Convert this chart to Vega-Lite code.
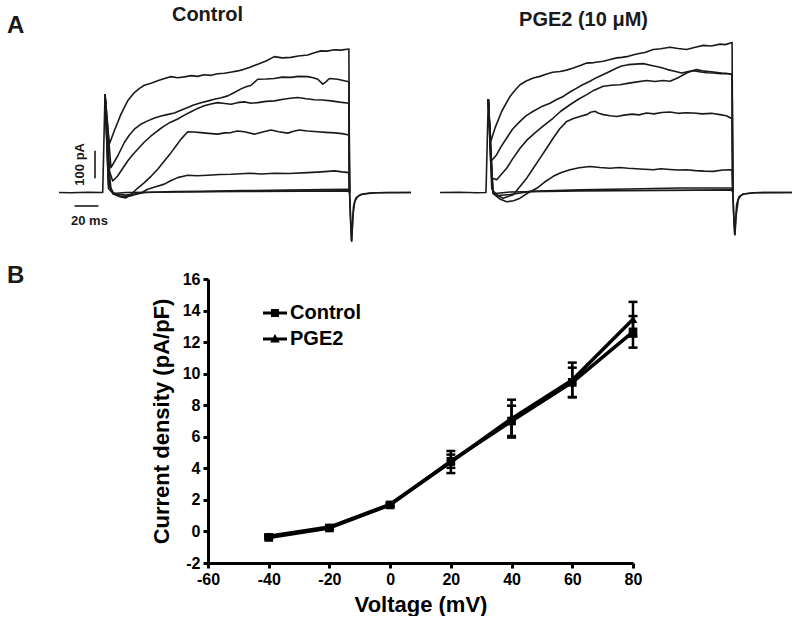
{
  "$schema": "https://vega.github.io/schema/vega-lite/v6.json",
  "padding": {"left": 7, "top": 4.5, "right": 0, "bottom": 0},
  "config": {"font": "Liberation Sans", "view": {"stroke": null}},
  "datasets": {
    "ctrl": [
      {"s":"p","t":-40,"i":0},{"s":"p","t":-30,"i":-1},{"s":"p","t":-15,"i":1},{"s":"p","t":-2,"i":0},{"s":"p","t":0,"i":378},
      {"s":"c1","t":0,"i":378},{"s":"c1","t":3.7,"i":185},{"s":"c1","t":8.1,"i":237},{"s":"c1","t":13.9,"i":301},{"s":"c1","t":19.7,"i":352},{"s":"c1","t":25.5,"i":384},{"s":"c1","t":30,"i":400},{"s":"c1","t":34.2,"i":412},{"s":"c1","t":40,"i":420},{"s":"c1","t":45.8,"i":429},{"s":"c1","t":51,"i":437},{"s":"c1","t":57.4,"i":445},{"s":"c1","t":63,"i":441},{"s":"c1","t":69,"i":444},{"s":"c1","t":75,"i":449},{"s":"c1","t":80.6,"i":446},{"s":"c1","t":86,"i":452},{"s":"c1","t":92.2,"i":450},{"s":"c1","t":98,"i":456},{"s":"c1","t":103.7,"i":458},{"s":"c1","t":109,"i":462},{"s":"c1","t":115.4,"i":467},{"s":"c1","t":120,"i":472},{"s":"c1","t":125.5,"i":480},{"s":"c1","t":132.8,"i":493},{"s":"c1","t":140,"i":505},{"s":"c1","t":147.2,"i":522},{"s":"c1","t":154,"i":517},{"s":"c1","t":161.7,"i":519},{"s":"c1","t":168,"i":524},{"s":"c1","t":176.3,"i":528},{"s":"c1","t":182,"i":537},{"s":"c1","t":187.8,"i":544},{"s":"c1","t":193,"i":543},{"s":"c1","t":199.4,"i":548},{"s":"c1","t":205,"i":547},{"s":"c1","t":212,"i":551},{"s":"c1","t":212.6,"i":0},
      {"s":"c2","t":0,"i":378},{"s":"c2","t":5.2,"i":95},{"s":"c2","t":11,"i":140},{"s":"c2","t":16.8,"i":192},{"s":"c2","t":21,"i":220},{"s":"c2","t":25.5,"i":243},{"s":"c2","t":31,"i":262},{"s":"c2","t":37.1,"i":275},{"s":"c2","t":43,"i":286},{"s":"c2","t":48.7,"i":294},{"s":"c2","t":54,"i":299},{"s":"c2","t":60.3,"i":305},{"s":"c2","t":66,"i":316},{"s":"c2","t":71.9,"i":326},{"s":"c2","t":77,"i":336},{"s":"c2","t":83.5,"i":345},{"s":"c2","t":89,"i":351},{"s":"c2","t":95,"i":358},{"s":"c2","t":101,"i":364},{"s":"c2","t":106.7,"i":371},{"s":"c2","t":112,"i":383},{"s":"c2","t":118.3,"i":398},{"s":"c2","t":122,"i":405},{"s":"c2","t":127,"i":412},{"s":"c2","t":132.8,"i":435},{"s":"c2","t":140,"i":436},{"s":"c2","t":147.2,"i":438},{"s":"c2","t":154,"i":443},{"s":"c2","t":161.7,"i":442},{"s":"c2","t":168,"i":446},{"s":"c2","t":176.3,"i":445},{"s":"c2","t":181,"i":441},{"s":"c2","t":185,"i":435},{"s":"c2","t":189.3,"i":416},{"s":"c2","t":192,"i":425},{"s":"c2","t":195,"i":438},{"s":"c2","t":202.3,"i":435},{"s":"c2","t":207,"i":430},{"s":"c2","t":212,"i":425},{"s":"c2","t":212.6,"i":0},
      {"s":"c3","t":0,"i":378},{"s":"c3","t":4,"i":80},{"s":"c3","t":6.7,"i":44},{"s":"c3","t":11,"i":63},{"s":"c3","t":15,"i":90},{"s":"c3","t":19.7,"i":121},{"s":"c3","t":24,"i":145},{"s":"c3","t":28.4,"i":166},{"s":"c3","t":34,"i":193},{"s":"c3","t":40,"i":217},{"s":"c3","t":46,"i":238},{"s":"c3","t":51.6,"i":256},{"s":"c3","t":57,"i":270},{"s":"c3","t":63.2,"i":282},{"s":"c3","t":69,"i":297},{"s":"c3","t":74.8,"i":310},{"s":"c3","t":80,"i":322},{"s":"c3","t":86.3,"i":333},{"s":"c3","t":92,"i":340},{"s":"c3","t":97.9,"i":345},{"s":"c3","t":104,"i":342},{"s":"c3","t":109.6,"i":339},{"s":"c3","t":115,"i":345},{"s":"c3","t":121.1,"i":348},{"s":"c3","t":127,"i":343},{"s":"c3","t":132.8,"i":345},{"s":"c3","t":140,"i":350},{"s":"c3","t":147.2,"i":352},{"s":"c3","t":155,"i":358},{"s":"c3","t":161,"i":362},{"s":"c3","t":167.6,"i":365},{"s":"c3","t":175,"i":360},{"s":"c3","t":182,"i":356},{"s":"c3","t":189,"i":355},{"s":"c3","t":196.5,"i":352},{"s":"c3","t":204,"i":347},{"s":"c3","t":212,"i":343},{"s":"c3","t":212.6,"i":0},
      {"s":"c4","t":0,"i":378},{"s":"c4","t":3,"i":120},{"s":"c4","t":5,"i":20},{"s":"c4","t":7,"i":-6},{"s":"c4","t":13.9,"i":-17},{"s":"c4","t":18.3,"i":-21},{"s":"c4","t":22.6,"i":-8},{"s":"c4","t":28,"i":15},{"s":"c4","t":34.2,"i":38},{"s":"c4","t":40,"i":62},{"s":"c4","t":45.8,"i":89},{"s":"c4","t":51,"i":118},{"s":"c4","t":57.4,"i":153},{"s":"c4","t":62,"i":180},{"s":"c4","t":66.1,"i":205},{"s":"c4","t":71.9,"i":233},{"s":"c4","t":77,"i":232},{"s":"c4","t":83.5,"i":230},{"s":"c4","t":90,"i":227},{"s":"c4","t":97.9,"i":224},{"s":"c4","t":104,"i":229},{"s":"c4","t":109.6,"i":230},{"s":"c4","t":115,"i":236},{"s":"c4","t":121.1,"i":233},{"s":"c4","t":129.8,"i":224},{"s":"c4","t":137,"i":232},{"s":"c4","t":144.3,"i":240},{"s":"c4","t":151,"i":233},{"s":"c4","t":158.8,"i":228},{"s":"c4","t":164,"i":235},{"s":"c4","t":168.9,"i":240},{"s":"c4","t":176,"i":236},{"s":"c4","t":184.9,"i":233},{"s":"c4","t":192,"i":231},{"s":"c4","t":200,"i":229},{"s":"c4","t":206,"i":226},{"s":"c4","t":212,"i":221},{"s":"c4","t":212.6,"i":0},
      {"s":"c5","t":0,"i":378},{"s":"c5","t":3,"i":60},{"s":"c5","t":5.2,"i":6},{"s":"c5","t":12.2,"i":-15},{"s":"c5","t":22.6,"i":-13},{"s":"c5","t":31.3,"i":-2},{"s":"c5","t":37.1,"i":12},{"s":"c5","t":44,"i":22},{"s":"c5","t":51.6,"i":32},{"s":"c5","t":57,"i":45},{"s":"c5","t":63.2,"i":57},{"s":"c5","t":71.9,"i":66},{"s":"c5","t":80,"i":64},{"s":"c5","t":89.3,"i":66},{"s":"c5","t":100,"i":69},{"s":"c5","t":109.6,"i":70},{"s":"c5","t":118,"i":72},{"s":"c5","t":125.5,"i":74},{"s":"c5","t":136,"i":71},{"s":"c5","t":147.2,"i":74},{"s":"c5","t":160,"i":73},{"s":"c5","t":176.3,"i":76},{"s":"c5","t":188,"i":79},{"s":"c5","t":199.4,"i":83},{"s":"c5","t":206,"i":79},{"s":"c5","t":212,"i":76},{"s":"c5","t":212.6,"i":0},
      {"s":"c6","t":0,"i":378},{"s":"c6","t":3,"i":30},{"s":"c6","t":7.8,"i":-6},{"s":"c6","t":18,"i":-10},{"s":"c6","t":27,"i":-5},{"s":"c6","t":35.7,"i":0},{"s":"c6","t":60,"i":3},{"s":"c6","t":83.5,"i":4},{"s":"c6","t":120,"i":7},{"s":"c6","t":160,"i":9},{"s":"c6","t":190,"i":11},{"s":"c6","t":212,"i":12},{"s":"c6","t":212.6,"i":0},
      {"s":"c7","t":0,"i":378},{"s":"c7","t":3,"i":15},{"s":"c7","t":7,"i":-4},{"s":"c7","t":18,"i":0},{"s":"c7","t":60,"i":2},{"s":"c7","t":120,"i":4},{"s":"c7","t":170,"i":5},{"s":"c7","t":212,"i":6},{"s":"c7","t":212.6,"i":0},
      {"s":"ta","t":212.6,"i":0},{"s":"ta","t":213.6,"i":-120},{"s":"ta","t":214.5,"i":-187},{"s":"ta","t":215.5,"i":-90},{"s":"ta","t":217,"i":-35},{"s":"ta","t":219.7,"i":-15},{"s":"ta","t":224,"i":-6},{"s":"ta","t":230,"i":-2},{"s":"ta","t":245,"i":0},{"s":"ta","t":266,"i":0},
      {"s":"tb","t":212.6,"i":0},{"s":"tb","t":214.2,"i":-185},{"s":"tb","t":215,"i":-130},{"s":"tb","t":216,"i":-55},{"s":"tb","t":218,"i":-22},{"s":"tb","t":222,"i":-8},{"s":"tb","t":235,"i":-1},{"s":"tb","t":266,"i":0}
    ],
    "pge": [
      {"s":"p","t":-42,"i":0},{"s":"p","t":-25,"i":1},{"s":"p","t":-10,"i":-1},{"s":"p","t":-2,"i":0},{"s":"p","t":0,"i":358},
      {"s":"p1","t":0,"i":358},{"s":"p1","t":2.1,"i":196},{"s":"p1","t":5.8,"i":247},{"s":"p1","t":11.7,"i":312},{"s":"p1","t":18.9,"i":369},{"s":"p1","t":23,"i":392},{"s":"p1","t":27.6,"i":414},{"s":"p1","t":33,"i":428},{"s":"p1","t":39.1,"i":440},{"s":"p1","t":45,"i":446},{"s":"p1","t":50.8,"i":455},{"s":"p1","t":56,"i":462},{"s":"p1","t":62.3,"i":465},{"s":"p1","t":68,"i":470},{"s":"p1","t":73.9,"i":478},{"s":"p1","t":80,"i":488},{"s":"p1","t":85.6,"i":497},{"s":"p1","t":92,"i":499},{"s":"p1","t":100,"i":504},{"s":"p1","t":106,"i":511},{"s":"p1","t":111.7,"i":517},{"s":"p1","t":116,"i":519},{"s":"p1","t":121.7,"i":523},{"s":"p1","t":129,"i":532},{"s":"p1","t":136,"i":538},{"s":"p1","t":143.5,"i":549},{"s":"p1","t":150,"i":552},{"s":"p1","t":158,"i":558},{"s":"p1","t":165,"i":553},{"s":"p1","t":172.5,"i":549},{"s":"p1","t":180,"i":558},{"s":"p1","t":187,"i":565},{"s":"p1","t":194,"i":563},{"s":"p1","t":201.5,"i":570},{"s":"p1","t":206,"i":568},{"s":"p1","t":212,"i":576},{"s":"p1","t":212.6,"i":0},
      {"s":"p2","t":0,"i":358},{"s":"p2","t":2.1,"i":119},{"s":"p2","t":7.3,"i":145},{"s":"p2","t":11,"i":175},{"s":"p2","t":16,"i":209},{"s":"p2","t":21,"i":243},{"s":"p2","t":27.6,"i":273},{"s":"p2","t":33,"i":295},{"s":"p2","t":39.1,"i":312},{"s":"p2","t":46,"i":329},{"s":"p2","t":53.7,"i":343},{"s":"p2","t":59,"i":356},{"s":"p2","t":65.2,"i":369},{"s":"p2","t":71,"i":386},{"s":"p2","t":76.9,"i":401},{"s":"p2","t":82,"i":414},{"s":"p2","t":88.4,"i":427},{"s":"p2","t":94,"i":441},{"s":"p2","t":100,"i":453},{"s":"p2","t":106,"i":466},{"s":"p2","t":111.7,"i":478},{"s":"p2","t":116,"i":486},{"s":"p2","t":121.7,"i":491},{"s":"p2","t":128,"i":493},{"s":"p2","t":134.8,"i":495},{"s":"p2","t":142,"i":488},{"s":"p2","t":149.3,"i":481},{"s":"p2","t":156,"i":472},{"s":"p2","t":162,"i":466},{"s":"p2","t":168.2,"i":459},{"s":"p2","t":173,"i":464},{"s":"p2","t":178.3,"i":468},{"s":"p2","t":185,"i":463},{"s":"p2","t":190,"i":460},{"s":"p2","t":195.7,"i":459},{"s":"p2","t":202,"i":456},{"s":"p2","t":207,"i":457},{"s":"p2","t":212,"i":453},{"s":"p2","t":212.6,"i":0},
      {"s":"p3","t":0,"i":358},{"s":"p3","t":3,"i":55},{"s":"p3","t":7.3,"i":49},{"s":"p3","t":11,"i":68},{"s":"p3","t":16,"i":93},{"s":"p3","t":21,"i":128},{"s":"p3","t":27.6,"i":170},{"s":"p3","t":34,"i":203},{"s":"p3","t":42.1,"i":235},{"s":"p3","t":49,"i":260},{"s":"p3","t":56.5,"i":286},{"s":"p3","t":63,"i":312},{"s":"p3","t":71,"i":337},{"s":"p3","t":78,"i":357},{"s":"p3","t":85.6,"i":376},{"s":"p3","t":92,"i":393},{"s":"p3","t":100,"i":408},{"s":"p3","t":107,"i":412},{"s":"p3","t":114.5,"i":414},{"s":"p3","t":121,"i":419},{"s":"p3","t":128,"i":424},{"s":"p3","t":137.7,"i":430},{"s":"p3","t":145,"i":426},{"s":"p3","t":152,"i":430},{"s":"p3","t":158,"i":427},{"s":"p3","t":165,"i":441},{"s":"p3","t":172.5,"i":459},{"s":"p3","t":177,"i":467},{"s":"p3","t":181.2,"i":472},{"s":"p3","t":188,"i":466},{"s":"p3","t":195.7,"i":463},{"s":"p3","t":203,"i":459},{"s":"p3","t":212,"i":455},{"s":"p3","t":212.6,"i":0},
      {"s":"p4","t":0,"i":358},{"s":"p4","t":4,"i":4},{"s":"p4","t":8,"i":-12},{"s":"p4","t":13,"i":-22},{"s":"p4","t":17,"i":-16},{"s":"p4","t":21.7,"i":-9},{"s":"p4","t":27,"i":20},{"s":"p4","t":33.4,"i":55},{"s":"p4","t":39,"i":92},{"s":"p4","t":45,"i":132},{"s":"p4","t":51,"i":172},{"s":"p4","t":56.5,"i":209},{"s":"p4","t":62,"i":244},{"s":"p4","t":68.2,"i":273},{"s":"p4","t":74,"i":284},{"s":"p4","t":79.7,"i":292},{"s":"p4","t":86,"i":300},{"s":"p4","t":89,"i":308},{"s":"p4","t":92.8,"i":312},{"s":"p4","t":96,"i":304},{"s":"p4","t":100,"i":299},{"s":"p4","t":106,"i":295},{"s":"p4","t":111.7,"i":292},{"s":"p4","t":118,"i":297},{"s":"p4","t":125,"i":301},{"s":"p4","t":131,"i":298},{"s":"p4","t":137.7,"i":305},{"s":"p4","t":144,"i":302},{"s":"p4","t":151,"i":307},{"s":"p4","t":158,"i":309},{"s":"p4","t":165,"i":304},{"s":"p4","t":172,"i":306},{"s":"p4","t":178.3,"i":305},{"s":"p4","t":186,"i":302},{"s":"p4","t":194,"i":304},{"s":"p4","t":201.5,"i":299},{"s":"p4","t":207,"i":295},{"s":"p4","t":212,"i":283},{"s":"p4","t":212.6,"i":0},
      {"s":"p5","t":0,"i":358},{"s":"p5","t":4,"i":-4},{"s":"p5","t":10,"i":-25},{"s":"p5","t":16,"i":-36},{"s":"p5","t":22,"i":-32},{"s":"p5","t":27.6,"i":-22},{"s":"p5","t":34,"i":-3},{"s":"p5","t":42.1,"i":16},{"s":"p5","t":49,"i":40},{"s":"p5","t":56.5,"i":62},{"s":"p5","t":63,"i":76},{"s":"p5","t":71,"i":87},{"s":"p5","t":79,"i":95},{"s":"p5","t":88.4,"i":100},{"s":"p5","t":97,"i":96},{"s":"p5","t":105.8,"i":93},{"s":"p5","t":114,"i":96},{"s":"p5","t":121.7,"i":93},{"s":"p5","t":132,"i":90},{"s":"p5","t":143.5,"i":87},{"s":"p5","t":150,"i":91},{"s":"p5","t":158,"i":88},{"s":"p5","t":165,"i":86},{"s":"p5","t":172.5,"i":87},{"s":"p5","t":180,"i":84},{"s":"p5","t":188,"i":82},{"s":"p5","t":195.7,"i":81},{"s":"p5","t":204,"i":86},{"s":"p5","t":212,"i":87},{"s":"p5","t":212.6,"i":0},
      {"s":"p6","t":0,"i":358},{"s":"p6","t":4,"i":4},{"s":"p6","t":8.4,"i":-12},{"s":"p6","t":18.9,"i":-8},{"s":"p6","t":28,"i":-2},{"s":"p6","t":36.3,"i":4},{"s":"p6","t":79.7,"i":10},{"s":"p6","t":120,"i":13},{"s":"p6","t":166.7,"i":17},{"s":"p6","t":212,"i":17},{"s":"p6","t":212.6,"i":0},
      {"s":"p7","t":0,"i":358},{"s":"p7","t":3,"i":15},{"s":"p7","t":5.8,"i":-4},{"s":"p7","t":18.9,"i":2},{"s":"p7","t":80,"i":6},{"s":"p7","t":150,"i":8},{"s":"p7","t":212,"i":10},{"s":"p7","t":212.6,"i":0},
      {"s":"ta","t":212.6,"i":0},{"s":"ta","t":213.6,"i":-110},{"s":"ta","t":214.5,"i":-163},{"s":"ta","t":215.5,"i":-90},{"s":"ta","t":217.4,"i":-28},{"s":"ta","t":219.5,"i":-12},{"s":"ta","t":221.7,"i":-6},{"s":"ta","t":230.4,"i":-1},{"s":"ta","t":245,"i":0},{"s":"ta","t":264.1,"i":0},
      {"s":"tb","t":212.6,"i":0},{"s":"tb","t":214.2,"i":-160},{"s":"tb","t":215,"i":-110},{"s":"tb","t":216,"i":-45},{"s":"tb","t":218,"i":-16},{"s":"tb","t":222,"i":-6},{"s":"tb","t":232,"i":-1},{"s":"tb","t":264.1,"i":0}
    ],
    "iv": [
      {"g":"Control","v":-40,"m":-0.38,"lo":-0.48,"hi":-0.28},
      {"g":"Control","v":-20,"m":0.22,"lo":0.12,"hi":0.32},
      {"g":"Control","v":0,"m":1.68,"lo":1.58,"hi":1.78},
      {"g":"Control","v":20,"m":4.45,"lo":4.03,"hi":4.87},
      {"g":"Control","v":40,"m":7.0,"lo":6.05,"hi":7.97},
      {"g":"Control","v":60,"m":9.45,"lo":8.52,"hi":10.38},
      {"g":"Control","v":80,"m":12.65,"lo":11.65,"hi":13.65},
      {"g":"PGE2","v":-40,"m":-0.3,"lo":-0.4,"hi":-0.2},
      {"g":"PGE2","v":-20,"m":0.28,"lo":0.18,"hi":0.38},
      {"g":"PGE2","v":0,"m":1.72,"lo":1.62,"hi":1.82},
      {"g":"PGE2","v":20,"m":4.4,"lo":3.7,"hi":5.1},
      {"g":"PGE2","v":40,"m":7.15,"lo":5.95,"hi":8.35},
      {"g":"PGE2","v":60,"m":9.6,"lo":8.5,"hi":10.7},
      {"g":"PGE2","v":80,"m":13.45,"lo":12.35,"hi":14.55}
    ]
  },
  "spacing": 18.5,
  "vconcat": [
    {
      "spacing": 27,
      "hconcat": [
        {
          "width": 24, "height": 203,
          "data": {"values": [{}]},
          "mark": {"type": "text", "text": "A", "fontSize": 24, "fontWeight": "bold", "color": "#1a1a1a", "align": "left", "baseline": "alphabetic"},
          "encoding": {
            "x": {"datum": 0, "type": "quantitative", "scale": {"domain": [0, 1], "nice": false, "zero": false}, "axis": null},
            "y": {"datum": 613, "type": "quantitative", "scale": {"domain": [-200, 580], "nice": false, "zero": false}, "axis": null}}
        },
        {
          "width": 352, "height": 203,
          "layer": [
            {"data": {"name": "ctrl"}, "mark": {"type": "line", "color": "#1a1a1a", "strokeWidth": 1.6, "strokeJoin": "round"},
             "encoding": {
               "x": {"field": "t", "type": "quantitative", "scale": {"domain": [-40, 266], "nice": false, "zero": false}, "axis": null},
               "y": {"field": "i", "type": "quantitative", "scale": {"domain": [-200, 580], "nice": false, "zero": false}, "axis": null},
               "detail": {"field": "s", "type": "nominal"}}},
            {"data": {"values": [{}]}, "mark": {"type": "rule", "color": "#1a1a1a", "strokeWidth": 1.6},
             "encoding": {"x": {"datum": -8.7, "type": "quantitative", "axis": null}, "y": {"datum": 55, "type": "quantitative", "axis": null}, "y2": {"datum": 160}}},
            {"data": {"values": [{}]}, "mark": {"type": "rule", "color": "#1a1a1a", "strokeWidth": 1.6},
             "encoding": {"x": {"datum": -26.5, "type": "quantitative", "axis": null}, "x2": {"datum": -5.7}, "y": {"datum": -52, "type": "quantitative", "axis": null}}},
            {"data": {"values": [{}]}, "mark": {"type": "text", "text": "100 pA", "angle": 270, "fontSize": 13, "fontWeight": "bold", "color": "#1a1a1a", "align": "center", "baseline": "middle"},
             "encoding": {"x": {"datum": -22, "type": "quantitative", "axis": null}, "y": {"datum": 108, "type": "quantitative", "axis": null}}},
            {"data": {"values": [{}]}, "mark": {"type": "text", "text": "20 ms", "fontSize": 13, "fontWeight": "bold", "color": "#1a1a1a", "align": "center", "baseline": "middle"},
             "encoding": {"x": {"datum": -13.5, "type": "quantitative", "axis": null}, "y": {"datum": -110, "type": "quantitative", "axis": null}}},
            {"data": {"values": [{}]}, "mark": {"type": "text", "text": "Control", "fontSize": 20, "fontWeight": "bold", "color": "#1a1a1a", "align": "center", "baseline": "alphabetic"},
             "encoding": {"x": {"datum": 89.1, "type": "quantitative", "axis": null}, "y": {"datum": 658, "type": "quantitative", "axis": null}}}
          ]
        },
        {
          "width": 352, "height": 203,
          "layer": [
            {"data": {"name": "pge"}, "mark": {"type": "line", "color": "#1a1a1a", "strokeWidth": 1.6, "strokeJoin": "round"},
             "encoding": {
               "x": {"field": "t", "type": "quantitative", "scale": {"domain": [-42, 264.1], "nice": false, "zero": false}, "axis": null},
               "y": {"field": "i", "type": "quantitative", "scale": {"domain": [-200, 580], "nice": false, "zero": false}, "axis": null},
               "detail": {"field": "s", "type": "nominal"}}},
            {"data": {"values": [{}]}, "mark": {"type": "text", "text": "PGE2 (10 μM)", "fontSize": 20, "fontWeight": "bold", "color": "#1a1a1a", "align": "center", "baseline": "alphabetic"},
             "encoding": {"x": {"datum": 82.8, "type": "quantitative", "axis": null}, "y": {"datum": 640, "type": "quantitative", "axis": null}}}
          ]
        }
      ]
    },
    {
      "spacing": 122,
      "hconcat": [
        {
          "width": 21, "height": 284,
          "data": {"values": [{}]},
          "mark": {"type": "text", "text": "B", "fontSize": 24, "fontWeight": "bold", "color": "#1a1a1a", "align": "left", "baseline": "alphabetic"},
          "encoding": {
            "x": {"datum": 0, "type": "quantitative", "scale": {"domain": [0, 1], "nice": false, "zero": false}, "axis": null},
            "y": {"datum": 15.75, "type": "quantitative", "scale": {"domain": [-2, 16], "nice": false, "zero": false}, "axis": null}}
        },
        {
          "width": 425, "height": 284,
          "data": {"name": "iv"},
          "resolve": {"scale": {"shape": "independent"}},
          "layer": [
            {"mark": {"type": "line", "color": "black", "strokeWidth": 3.5, "strokeJoin": "round"},
             "encoding": {
               "x": {"field": "v", "type": "quantitative", "title": "Voltage (mV)", "scale": {"domain": [-60, 80], "nice": false, "zero": false},
                     "axis": {"values": [-60, -40, -20, 0, 20, 40, 60, 80], "labelExpr": "'' + datum.value", "grid": false, "domainColor": "black", "domainWidth": 3, "tickColor": "black", "tickWidth": 3, "tickSize": 5, "labelFontSize": 16, "labelFontWeight": "bold", "labelColor": "black", "labelPadding": 3, "labelFlush": false, "labelOverlap": false, "titleFontSize": 22, "titleFontWeight": "bold", "titleColor": "black", "titlePadding": 7}},
               "y": {"field": "m", "type": "quantitative", "title": "Current density (pA/pF)", "scale": {"domain": [-2, 16], "nice": false, "zero": false},
                     "axis": {"values": [-2, 0, 2, 4, 6, 8, 10, 12, 14, 16], "labelExpr": "'' + datum.value", "grid": false, "domainColor": "black", "domainWidth": 3, "tickColor": "black", "tickWidth": 3, "tickSize": 5, "labelFontSize": 16, "labelFontWeight": "bold", "labelColor": "black", "labelPadding": 3, "labelFlush": false, "labelOverlap": false, "titleFontSize": 22, "titleFontWeight": "bold", "titleColor": "black", "titlePadding": 9}},
               "detail": {"field": "g", "type": "nominal"}}},
            {"mark": {"type": "rule", "color": "black", "strokeWidth": 2.5},
             "encoding": {
               "x": {"field": "v", "type": "quantitative", "title": "Voltage (mV)",
                     "axis": {"values": [-60, -40, -20, 0, 20, 40, 60, 80], "labelExpr": "'' + datum.value", "grid": false, "domainColor": "black", "domainWidth": 3, "tickColor": "black", "tickWidth": 3, "tickSize": 5, "labelFontSize": 16, "labelFontWeight": "bold", "labelColor": "black", "labelPadding": 3, "labelFlush": false, "labelOverlap": false, "titleFontSize": 22, "titleFontWeight": "bold", "titleColor": "black", "titlePadding": 7}},
               "y": {"field": "lo", "type": "quantitative", "title": "Current density (pA/pF)",
                     "axis": {"values": [-2, 0, 2, 4, 6, 8, 10, 12, 14, 16], "labelExpr": "'' + datum.value", "grid": false, "domainColor": "black", "domainWidth": 3, "tickColor": "black", "tickWidth": 3, "tickSize": 5, "labelFontSize": 16, "labelFontWeight": "bold", "labelColor": "black", "labelPadding": 3, "labelFlush": false, "labelOverlap": false, "titleFontSize": 22, "titleFontWeight": "bold", "titleColor": "black", "titlePadding": 9}},
               "y2": {"field": "hi"}}},
            {"mark": {"type": "tick", "color": "black", "orient": "horizontal", "size": 9, "thickness": 2.5, "opacity": 1},
             "encoding": {
               "x": {"field": "v", "type": "quantitative", "title": "Voltage (mV)",
                     "axis": {"values": [-60, -40, -20, 0, 20, 40, 60, 80], "labelExpr": "'' + datum.value", "grid": false, "domainColor": "black", "domainWidth": 3, "tickColor": "black", "tickWidth": 3, "tickSize": 5, "labelFontSize": 16, "labelFontWeight": "bold", "labelColor": "black", "labelPadding": 3, "labelFlush": false, "labelOverlap": false, "titleFontSize": 22, "titleFontWeight": "bold", "titleColor": "black", "titlePadding": 7}},
               "y": {"field": "lo", "type": "quantitative", "title": "Current density (pA/pF)",
                     "axis": {"values": [-2, 0, 2, 4, 6, 8, 10, 12, 14, 16], "labelExpr": "'' + datum.value", "grid": false, "domainColor": "black", "domainWidth": 3, "tickColor": "black", "tickWidth": 3, "tickSize": 5, "labelFontSize": 16, "labelFontWeight": "bold", "labelColor": "black", "labelPadding": 3, "labelFlush": false, "labelOverlap": false, "titleFontSize": 22, "titleFontWeight": "bold", "titleColor": "black", "titlePadding": 9}}}},
            {"mark": {"type": "tick", "color": "black", "orient": "horizontal", "size": 9, "thickness": 2.5, "opacity": 1},
             "encoding": {
               "x": {"field": "v", "type": "quantitative", "title": "Voltage (mV)",
                     "axis": {"values": [-60, -40, -20, 0, 20, 40, 60, 80], "labelExpr": "'' + datum.value", "grid": false, "domainColor": "black", "domainWidth": 3, "tickColor": "black", "tickWidth": 3, "tickSize": 5, "labelFontSize": 16, "labelFontWeight": "bold", "labelColor": "black", "labelPadding": 3, "labelFlush": false, "labelOverlap": false, "titleFontSize": 22, "titleFontWeight": "bold", "titleColor": "black", "titlePadding": 7}},
               "y": {"field": "hi", "type": "quantitative", "title": "Current density (pA/pF)",
                     "axis": {"values": [-2, 0, 2, 4, 6, 8, 10, 12, 14, 16], "labelExpr": "'' + datum.value", "grid": false, "domainColor": "black", "domainWidth": 3, "tickColor": "black", "tickWidth": 3, "tickSize": 5, "labelFontSize": 16, "labelFontWeight": "bold", "labelColor": "black", "labelPadding": 3, "labelFlush": false, "labelOverlap": false, "titleFontSize": 22, "titleFontWeight": "bold", "titleColor": "black", "titlePadding": 9}}}},
            {"mark": {"type": "point", "filled": true, "color": "black", "opacity": 1, "size": 75},
             "encoding": {
               "x": {"field": "v", "type": "quantitative", "title": "Voltage (mV)",
                     "axis": {"values": [-60, -40, -20, 0, 20, 40, 60, 80], "labelExpr": "'' + datum.value", "grid": false, "domainColor": "black", "domainWidth": 3, "tickColor": "black", "tickWidth": 3, "tickSize": 5, "labelFontSize": 16, "labelFontWeight": "bold", "labelColor": "black", "labelPadding": 3, "labelFlush": false, "labelOverlap": false, "titleFontSize": 22, "titleFontWeight": "bold", "titleColor": "black", "titlePadding": 7}},
               "y": {"field": "m", "type": "quantitative", "title": "Current density (pA/pF)",
                     "axis": {"values": [-2, 0, 2, 4, 6, 8, 10, 12, 14, 16], "labelExpr": "'' + datum.value", "grid": false, "domainColor": "black", "domainWidth": 3, "tickColor": "black", "tickWidth": 3, "tickSize": 5, "labelFontSize": 16, "labelFontWeight": "bold", "labelColor": "black", "labelPadding": 3, "labelFlush": false, "labelOverlap": false, "titleFontSize": 22, "titleFontWeight": "bold", "titleColor": "black", "titlePadding": 9}},
               "shape": {"field": "g", "type": "nominal", "scale": {"domain": ["Control", "PGE2"], "range": ["square", "triangle-up"]}, "legend": null}}},
            {"mark": {"type": "point", "filled": true, "color": "black", "opacity": 0, "size": 75},
             "encoding": {
               "x": {"field": "v", "type": "quantitative", "title": "Voltage (mV)",
                     "axis": {"values": [-60, -40, -20, 0, 20, 40, 60, 80], "labelExpr": "'' + datum.value", "grid": false, "domainColor": "black", "domainWidth": 3, "tickColor": "black", "tickWidth": 3, "tickSize": 5, "labelFontSize": 16, "labelFontWeight": "bold", "labelColor": "black", "labelPadding": 3, "labelFlush": false, "labelOverlap": false, "titleFontSize": 22, "titleFontWeight": "bold", "titleColor": "black", "titlePadding": 7}},
               "y": {"field": "m", "type": "quantitative", "title": "Current density (pA/pF)",
                     "axis": {"values": [-2, 0, 2, 4, 6, 8, 10, 12, 14, 16], "labelExpr": "'' + datum.value", "grid": false, "domainColor": "black", "domainWidth": 3, "tickColor": "black", "tickWidth": 3, "tickSize": 5, "labelFontSize": 16, "labelFontWeight": "bold", "labelColor": "black", "labelPadding": 3, "labelFlush": false, "labelOverlap": false, "titleFontSize": 22, "titleFontWeight": "bold", "titleColor": "black", "titlePadding": 9}},
               "shape": {"field": "g", "type": "nominal",
                         "scale": {"domain": ["Control", "PGE2"], "range": ["M-1,-0.12H1V0.12H-1Z M-0.33,-0.33H0.33V0.33H-0.33Z", "M-1,-0.12H1V0.12H-1Z M0,-0.42L0.4,0.3H-0.4Z"]},
                         "legend": {"title": null, "orient": "none", "legendX": 55, "legendY": 22, "padding": 0,
                                    "labelFontSize": 20, "labelFontWeight": "bold", "labelColor": "black",
                                    "symbolSize": 576, "rowPadding": 4, "labelOffset": 3,
                                    "symbolOpacity": 1, "symbolStrokeWidth": 0, "symbolFillColor": "black"}}}}
          ]
        }
      ]
    }
  ]
}
